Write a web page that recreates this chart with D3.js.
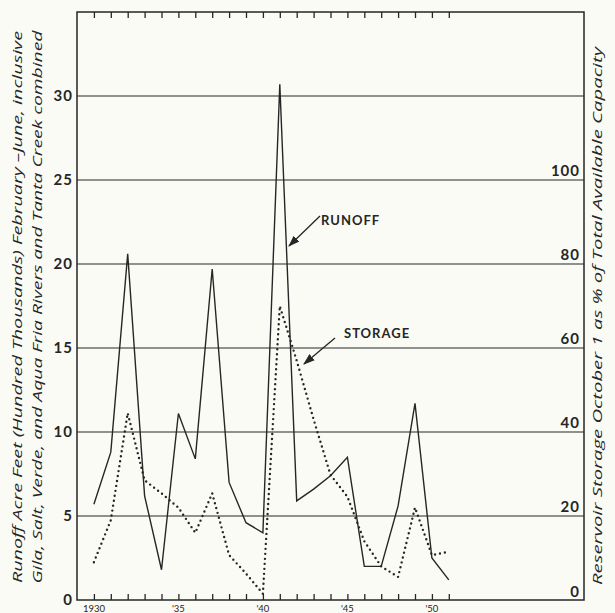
<!DOCTYPE html>
<html><head><meta charset="utf-8">
<script src="https://cdn.jsdelivr.net/npm/d3@7"></script>
<style>
html,body{margin:0;padding:0;background:#fbfbf6;}
svg{display:block;}
</style></head>
<body>
<script>
const years = [1930,1931,1932,1933,1934,1935,1936,1937,1938,1939,1940,1941,1942,1943,1944,1945,1946,1947,1948,1949,1950,1951];
const runoff = [5.7,8.8,20.6,6.2,1.8,11.1,8.4,19.7,7.0,4.6,4.0,30.7,5.9,6.6,7.4,8.5,2.0,2.0,5.6,11.7,2.5,1.2];
const storagePct = [9,19,44.5,28.5,25.4,22,16,25.4,10.7,6.3,1.5,70,57,43,29.8,24.6,14,8,5.5,22,10.7,11.5];
const leftTicks = [0,5,10,15,20,25,30];
const rightTicks = [0,20,40,60,80,100];
const xLabelYears = [1930,1935,1940,1945,1950];
const xLabelText = ["1930","'35","'40","'45","'50"];
const leftTitle1 = "Runoff Acre Feet (Hundred Thousands)  February \u2013June, inclusive";
const leftTitle2 = "Gila, Salt, Verde, and Aqua Fria Rivers and Tanta Creek combined";
const rightTitle = "Reservoir Storage October 1 as % of Total Available Capacity";

const W=615,H=613;
const L=77,R=584,T=12,B=600;
const ink="#262626";
const svg=d3.select("body").append("svg").attr("width",W).attr("height",H);
svg.append("rect").attr("width",W).attr("height",H).attr("fill","#fbfbf6");

const x=d3.scaleLinear().domain([1929,1959]).range([L,R]);
const yL=d3.scaleLinear().domain([0,35]).range([B,T]);
const yR=d3.scaleLinear().domain([0,140]).range([B,T]);

// gridlines
svg.append("g").selectAll("line").data(leftTicks.filter(d=>d>0)).join("line")
  .attr("x1",L).attr("x2",R).attr("y1",d=>yL(d)).attr("y2",d=>yL(d))
  .attr("stroke",ink).attr("stroke-width",1.2);

// frame
svg.append("rect").attr("x",L).attr("y",T).attr("width",R-L).attr("height",B-T)
  .attr("fill","none").attr("stroke",ink).attr("stroke-width",1.5);

// year ticks bottom and top
const gb=svg.append("g").attr("transform",`translate(0,${B})`)
  .call(d3.axisBottom(x).tickValues(years).tickSize(-6).tickFormat(""));
const gt=svg.append("g").attr("transform",`translate(0,${T})`)
  .call(d3.axisTop(x).tickValues(years).tickSize(-6).tickFormat(""));
[gb,gt].forEach(g=>{g.select(".domain").remove();g.selectAll("line").attr("stroke",ink).attr("stroke-width",1.3);});

// x labels
svg.append("g").selectAll("text").data(xLabelYears).join("text")
  .attr("x",d=>x(d)).attr("y",611.5).attr("text-anchor","middle")
  .attr("font-family","Lato, sans-serif").attr("font-size",9.5).attr("fill",ink)
  .text((d,i)=>xLabelText[i]);

// left tick labels
const gl=svg.append("g").attr("transform",`translate(${L},0)`)
  .call(d3.axisLeft(yL).tickValues(leftTicks).tickSize(0).tickPadding(4).tickFormat(d3.format("d")));
gl.select(".domain").remove();
gl.selectAll("text").attr("font-family","Lato, sans-serif").attr("font-weight",700)
  .attr("font-size",15).attr("fill",ink).attr("letter-spacing","1px");

// right tick labels (inside plot, above gridlines)
svg.append("g").selectAll("text").data(rightTicks).join("text")
  .attr("x",R-4).attr("y",d=>d===0?yR(d)-3:yR(d)-4).attr("text-anchor","end")
  .attr("font-family","Lato, sans-serif").attr("font-weight",700)
  .attr("font-size",15).attr("fill",ink).attr("letter-spacing","1px")
  .text(d=>d);

// runoff line
svg.append("path").datum(years.map((y,i)=>[y,runoff[i]]))
  .attr("d",d3.line().x(d=>x(d[0])).y(d=>yL(d[1])))
  .attr("fill","none").attr("stroke",ink).attr("stroke-width",1.4).attr("stroke-linejoin","miter");

// storage dotted line
svg.append("path").datum(years.map((y,i)=>[y,storagePct[i]]))
  .attr("d",d3.line().x(d=>x(d[0])).y(d=>yR(d[1])))
  .attr("fill","none").attr("stroke",ink).attr("stroke-width",2.4)
  .attr("stroke-linecap","round").attr("stroke-dasharray","0,5");

// arrows
const defs=svg.append("defs");
defs.append("marker").attr("id","ah").attr("viewBox","0 0 10 10").attr("refX",9).attr("refY",5)
  .attr("markerWidth",9).attr("markerHeight",9).attr("orient","auto")
  .append("path").attr("d","M0,1.5 L10,5 L0,8.5 Z").attr("fill",ink);
svg.append("line").attr("x1",320).attr("y1",216).attr("x2",289).attr("y2",246)
  .attr("stroke",ink).attr("stroke-width",1.3).attr("marker-end","url(#ah)");
svg.append("line").attr("x1",335).attr("y1",338).attr("x2",304).attr("y2",364)
  .attr("stroke",ink).attr("stroke-width",1.3).attr("marker-end","url(#ah)");

svg.append("text").attr("x",321).attr("y",225).text("RUNOFF")
  .attr("font-family","Lato, sans-serif").attr("font-weight",700).attr("font-size",13)
  .attr("letter-spacing","1px").attr("fill",ink);
svg.append("text").attr("x",344).attr("y",338).text("STORAGE")
  .attr("font-family","Lato, sans-serif").attr("font-weight",700).attr("font-size",13)
  .attr("letter-spacing","1px").attr("fill",ink);

// axis titles
function vtitle(txt,cx,cy,len){
  svg.append("text").attr("transform",`translate(${cx},${cy}) rotate(-90)`)
    .attr("text-anchor","middle").attr("font-family","'Open Sans', sans-serif")
    .attr("font-style","italic").attr("font-size",12.5).attr("fill",ink)
    .attr("textLength",len).attr("lengthAdjust","spacingAndGlyphs").text(txt);
}
vtitle(leftTitle1,22,307,552);
vtitle(leftTitle2,42,307,553);
vtitle(rightTitle,602,316,538);
</script>
</body></html>
